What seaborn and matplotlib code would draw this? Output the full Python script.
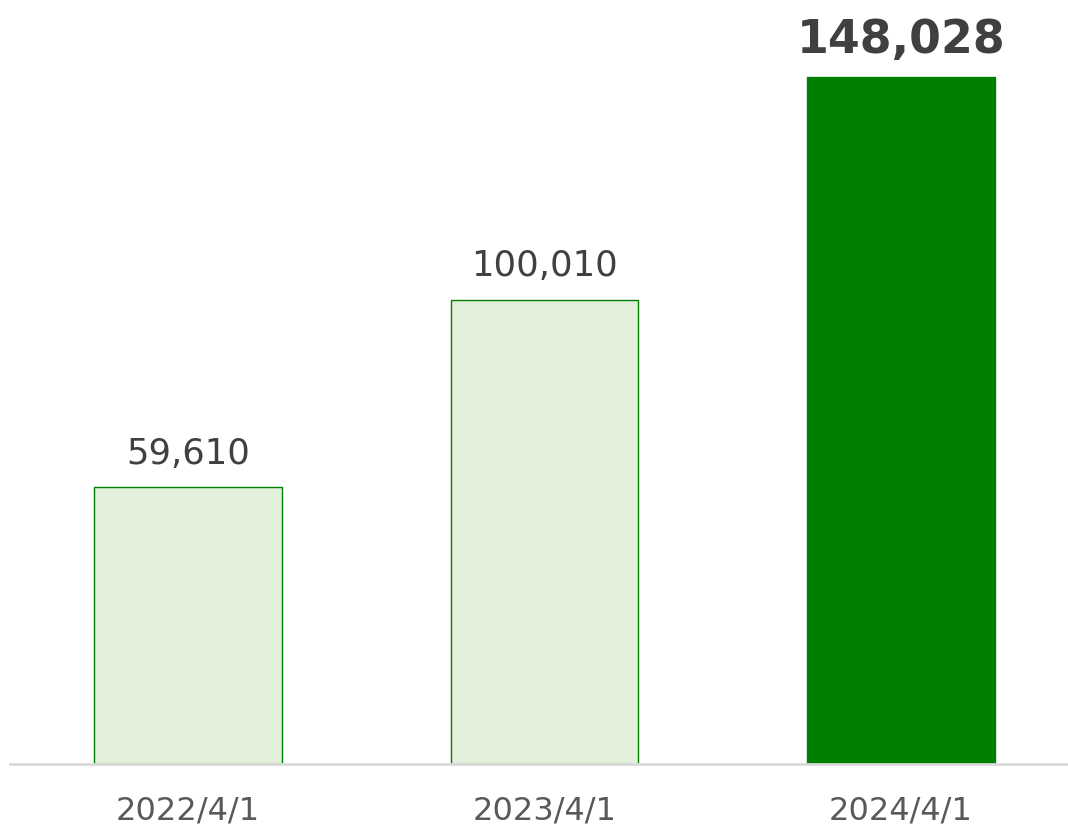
import matplotlib
matplotlib.use("Agg")
import matplotlib.pyplot as plt
import seaborn as sns
import pandas as pd

dates = ["2022/4/1", "2023/4/1", "2024/4/1"]
values = [59610, 100010, 148028]
fills = ["#E2EFDA", "#E2EFDA", "#008000"]

df = pd.DataFrame({"date": dates, "value": values})

sns.set_theme(style="white")
plt.rcParams["font.family"] = ["DejaVu Sans"]

fig = plt.figure(figsize=(10.68, 8.27), dpi=100)
ax = fig.add_axes([10 / 1068, 63 / 827, 1058 / 1068, 764 / 827])

sns.barplot(data=df, x="date", y="value", hue="date", palette=fills,
            legend=False, width=0.527, edgecolor="#008000", linewidth=1,
            saturation=1, ax=ax)

ax.set_xlim(-0.5, 2.469)
ax.set_ylim(0, 164500)
ax.set_xlabel("")
ax.set_ylabel("")
ax.set_yticks([])
for s in ["top", "right", "left"]:
    ax.spines[s].set_visible(False)
ax.spines["bottom"].set_color("#d9d9d9")
ax.spines["bottom"].set_linewidth(2)
ax.tick_params(axis="x", length=0, pad=23, labelsize=23, labelcolor="#595959")

for i, v in enumerate(values):
    last = i == len(values) - 1
    ax.annotate(f"{v:,}", (i, v), xytext=(0, 17),
                textcoords="offset points", ha="center", va="baseline",
                fontsize=33 if last else 25.5,
                fontweight="bold" if last else "normal",
                color="#404040", annotation_clip=False)

fig.savefig("out.png", dpi=100)
